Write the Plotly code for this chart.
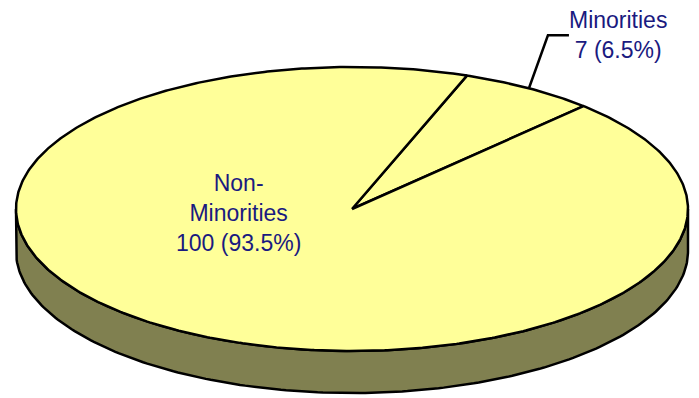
import numpy as np
import plotly.graph_objects as go

# ---- data ----
labels = ["Minorities", "Non-Minorities"]
values = [7, 100]
label_text = ["Minorities<br>7 (6.5%)", "Non-<br>Minorities<br>100 (93.5%)"]

# ---- geometry / style (pixel space) ----
W, H = 699, 398
cx, cy = 352, 209
rx, ry = 336, 142
depth = 42
start_deg = 20  # clockwise from 12 o'clock
top_color = "#FFFF99"
side_color = "#808050"
text_color = "#1A1A80"
font_family = "Liberation Sans, Arial, sans-serif"
lw = 2.5

fig = go.Figure()

# side (front half of the cylinder)
ang = np.linspace(0, 180, 200)  # screen coords with y down: sin>0 is lower half
xs_top = cx + rx * np.cos(np.radians(ang))
ys_top = cy + ry * np.sin(np.radians(ang))
xs = np.concatenate([xs_top, xs_top[::-1], xs_top[:1]])
ys = np.concatenate([ys_top, ys_top[::-1] + depth, ys_top[:1]])
fig.add_trace(go.Scatter(x=xs, y=ys, mode="lines", fill="toself",
                         fillcolor=side_color, line=dict(color="black", width=lw),
                         hoverinfo="skip", showlegend=False))

# top slices
total = sum(values)
cum = start_deg
mids = []
for v in values:
    a0 = cum
    a1 = cum + v / total * 360
    cum = a1
    mids.append((a0 + a1) / 2)
    th = np.linspace(a0, a1, max(int(a1 - a0) * 2, 10)) - 90
    px = cx + rx * np.cos(np.radians(th))
    py = cy + ry * np.sin(np.radians(th))
    fig.add_trace(go.Scatter(x=np.concatenate([[cx], px, [cx]]),
                             y=np.concatenate([[cy], py, [cy]]),
                             mode="lines", fill="toself", fillcolor=top_color,
                             line=dict(color="black", width=lw),
                             hoverinfo="skip", showlegend=False))

# leader line for small slice
m = np.radians(mids[0] - 90)
ex, ey = cx + rx * np.cos(m), cy + ry * np.sin(m)
fig.add_trace(go.Scatter(x=[ex, ex + 19, ex + 40], y=[ey, ey - 53, ey - 53],
                         mode="lines", line=dict(color="black", width=lw),
                         hoverinfo="skip", showlegend=False))

fig.add_annotation(x=ex + 89, y=ey - 53, text=label_text[0], showarrow=False,
                   font=dict(family=font_family, size=23, color=text_color),
                   align="center")
fig.add_annotation(x=238, y=213, text=label_text[1], showarrow=False,
                   font=dict(family=font_family, size=23, color=text_color),
                   align="center")

fig.update_layout(width=W, height=H, margin=dict(l=0, r=0, t=0, b=0),
                  paper_bgcolor="white", plot_bgcolor="white",
                  xaxis=dict(range=[0, W], visible=False, fixedrange=True),
                  yaxis=dict(range=[H, 0], visible=False, fixedrange=True))
fig.write_html("out.html", config={"displayModeBar": False},
               post_script="document.body.style.margin='0';document.body.style.overflow='hidden';")
